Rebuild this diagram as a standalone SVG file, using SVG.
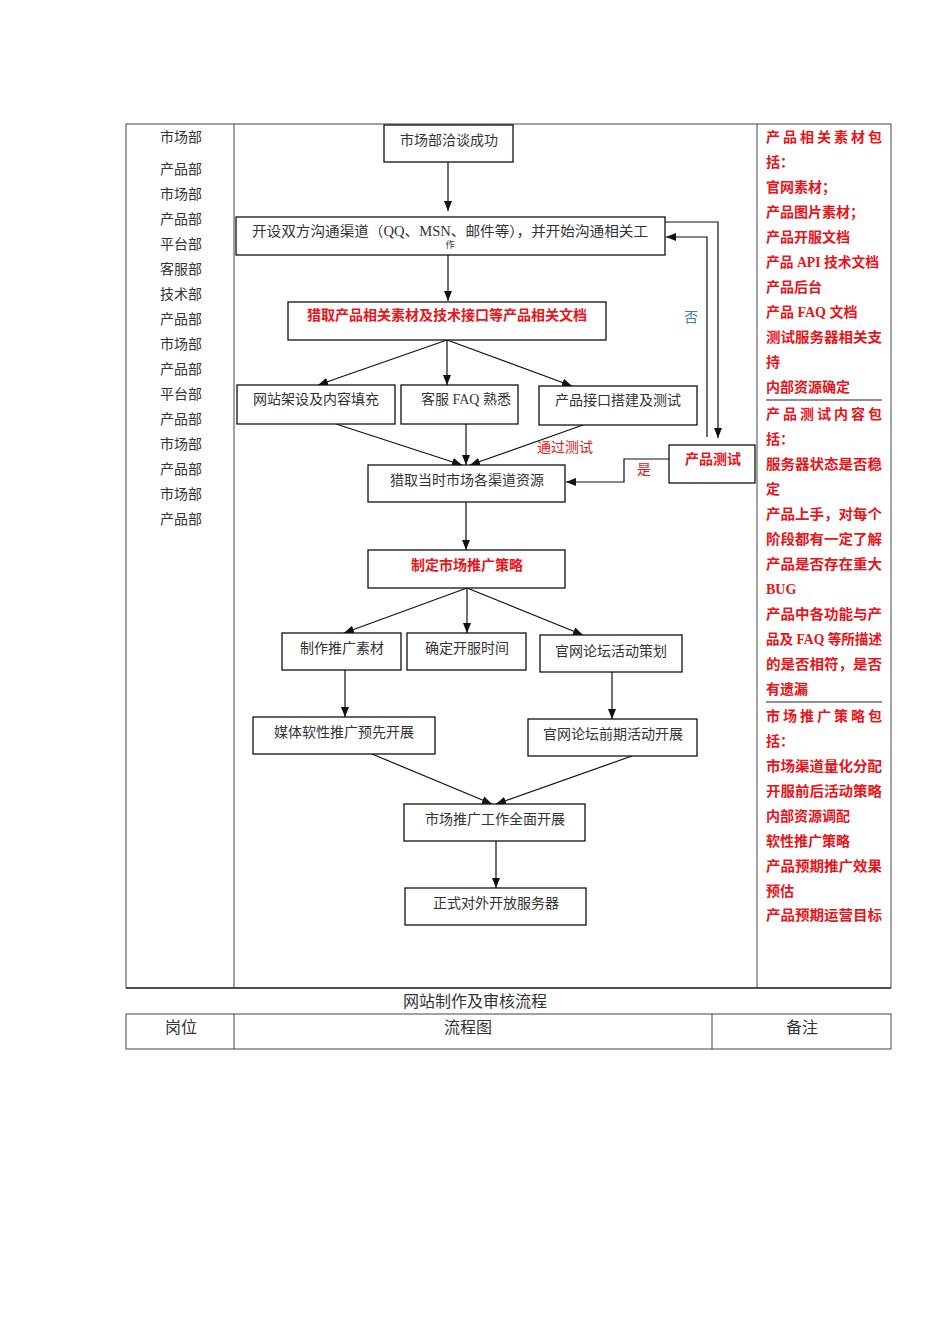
<svg xmlns="http://www.w3.org/2000/svg" width="950" height="1344" viewBox="0 0 950 1344">
<style>
.bg{fill:#fff}
.tbl{fill:none;stroke:#444;stroke-width:1}
.box{fill:#fff;stroke:#111;stroke-width:1.3}
.ln{fill:none;stroke:#111;stroke-width:1.2}
.t{font-family:"Liberation Serif","Noto Sans CJK SC",serif;font-size:14px;fill:#333}
.c{text-anchor:middle}
.r{fill:#e8141a;font-weight:bold}
.rt{font-family:"Liberation Serif","Noto Sans CJK SC",serif;font-size:14px;fill:#e8141a;font-weight:bold}
.h{font-family:"Liberation Serif","Noto Sans CJK SC",serif;font-size:16px;fill:#333}
</style>
<defs>
<marker id="ah" viewBox="0 0 10 10" refX="10" refY="5" markerWidth="10" markerHeight="10" markerUnits="userSpaceOnUse" orient="auto"><path d="M0,1 L10,5 L0,9 z" fill="#111"/></marker>
</defs>
<rect class="bg" x="0" y="0" width="950" height="1344"/>
<g id="table">
<rect class="tbl" x="126" y="124" width="765" height="864"/>
<line class="tbl" x1="234" y1="124" x2="234" y2="988"/>
<line class="tbl" x1="757" y1="124" x2="757" y2="988"/>
<line x1="126" y1="988" x2="891" y2="988" stroke="#333" stroke-width="1.6"/>
<text class="h c" x="475" y="1007">网站制作及审核流程</text>
<rect class="tbl" x="126" y="1014" width="765" height="35"/>
<line class="tbl" x1="234" y1="1014" x2="234" y2="1049"/>
<line class="tbl" x1="712" y1="1014" x2="712" y2="1049"/>
<text class="h c" x="181" y="1033">岗位</text>
<text class="h c" x="468" y="1033">流程图</text>
<text class="h c" x="802" y="1033">备注</text>
</g>
<g id="roles" class="t">
<text class="t c" x="181" y="142">市场部</text>
<text class="t c" x="181" y="174">产品部</text>
<text class="t c" x="181" y="199">市场部</text>
<text class="t c" x="181" y="224">产品部</text>
<text class="t c" x="181" y="249">平台部</text>
<text class="t c" x="181" y="274">客服部</text>
<text class="t c" x="181" y="299">技术部</text>
<text class="t c" x="181" y="324">产品部</text>
<text class="t c" x="181" y="349">市场部</text>
<text class="t c" x="181" y="374">产品部</text>
<text class="t c" x="181" y="399">平台部</text>
<text class="t c" x="181" y="424">产品部</text>
<text class="t c" x="181" y="449">市场部</text>
<text class="t c" x="181" y="474">产品部</text>
<text class="t c" x="181" y="499">市场部</text>
<text class="t c" x="181" y="524">产品部</text>
</g>
<g id="notes">
<text class="rt" x="766" y="142" textLength="116" lengthAdjust="spacing">产品相关素材包</text>
<text class="rt" x="766" y="167">括：</text>
<text class="rt" x="766" y="192">官网素材；</text>
<text class="rt" x="766" y="217">产品图片素材；</text>
<text class="rt" x="766" y="242">产品开服文档</text>
<text class="rt" x="766" y="267" textLength="113" lengthAdjust="spacingAndGlyphs">产品 API 技术文档</text>
<text class="rt" x="766" y="292">产品后台</text>
<text class="rt" x="766" y="317">产品 FAQ 文档</text>
<text class="rt" x="766" y="342" textLength="116" lengthAdjust="spacingAndGlyphs">测试服务器相关支</text>
<text class="rt" x="766" y="367">持</text>
<text class="rt" x="766" y="392">内部资源确定</text>
<line x1="766" y1="400" x2="882" y2="400" stroke="#222" stroke-width="1.2"/>
<text class="rt" x="766" y="419" textLength="116" lengthAdjust="spacing">产品测试内容包</text>
<text class="rt" x="766" y="444">括：</text>
<text class="rt" x="766" y="469" textLength="116" lengthAdjust="spacingAndGlyphs">服务器状态是否稳</text>
<text class="rt" x="766" y="494">定</text>
<text class="rt" x="766" y="519" textLength="116" lengthAdjust="spacingAndGlyphs">产品上手，对每个</text>
<text class="rt" x="766" y="544" textLength="116" lengthAdjust="spacingAndGlyphs">阶段都有一定了解</text>
<text class="rt" x="766" y="569" textLength="116" lengthAdjust="spacingAndGlyphs">产品是否存在重大</text>
<text class="rt" x="766" y="594">BUG</text>
<text class="rt" x="766" y="619" textLength="116" lengthAdjust="spacingAndGlyphs">产品中各功能与产</text>
<text class="rt" x="766" y="644" textLength="116" lengthAdjust="spacingAndGlyphs">品及 FAQ 等所描述</text>
<text class="rt" x="766" y="669" textLength="116" lengthAdjust="spacingAndGlyphs">的是否相符，是否</text>
<text class="rt" x="766" y="694">有遗漏</text>
<line x1="766" y1="702" x2="882" y2="702" stroke="#222" stroke-width="1.2"/>
<text class="rt" x="766" y="721" textLength="116" lengthAdjust="spacing">市场推广策略包</text>
<text class="rt" x="766" y="746">括：</text>
<text class="rt" x="766" y="771" textLength="116" lengthAdjust="spacingAndGlyphs">市场渠道量化分配</text>
<text class="rt" x="766" y="796" textLength="116" lengthAdjust="spacingAndGlyphs">开服前后活动策略</text>
<text class="rt" x="766" y="821">内部资源调配</text>
<text class="rt" x="766" y="846">软性推广策略</text>
<text class="rt" x="766" y="871" textLength="116" lengthAdjust="spacingAndGlyphs">产品预期推广效果</text>
<text class="rt" x="766" y="896">预估</text>
<text class="rt" x="766" y="920" textLength="116" lengthAdjust="spacingAndGlyphs">产品预期运营目标</text>
</g>
<g id="connectors">
<line class="ln" x1="448" y1="162" x2="448" y2="211" marker-end="url(#ah)"/>
<line class="ln" x1="448" y1="255" x2="448" y2="301" marker-end="url(#ah)"/>
<line class="ln" x1="447" y1="340" x2="318" y2="385" marker-end="url(#ah)"/>
<line class="ln" x1="447" y1="340" x2="447" y2="385" marker-end="url(#ah)"/>
<line class="ln" x1="447" y1="340" x2="572" y2="386" marker-end="url(#ah)"/>
<line class="ln" x1="336" y1="424" x2="462" y2="465" marker-end="url(#ah)"/>
<line class="ln" x1="466" y1="424" x2="466" y2="465" marker-end="url(#ah)"/>
<line class="ln" x1="583" y1="425" x2="470" y2="465" marker-end="url(#ah)"/>
<polyline class="ln" points="669,459 624,459 624,482 566,482" marker-end="url(#ah)"/>
<polyline class="ln" points="665,222 718,222 718,438" marker-end="url(#ah)"/>
<polyline class="ln" points="707,437 707,237 666,237" marker-end="url(#ah)"/>
<line class="ln" x1="466" y1="502" x2="466" y2="550" marker-end="url(#ah)"/>
<line class="ln" x1="467" y1="588" x2="344" y2="633" marker-end="url(#ah)"/>
<line class="ln" x1="467" y1="588" x2="467" y2="633" marker-end="url(#ah)"/>
<line class="ln" x1="467" y1="588" x2="583" y2="635" marker-end="url(#ah)"/>
<line class="ln" x1="345" y1="670" x2="345" y2="717" marker-end="url(#ah)"/>
<line class="ln" x1="612" y1="672" x2="612" y2="719" marker-end="url(#ah)"/>
<line class="ln" x1="372" y1="754" x2="492" y2="804" marker-end="url(#ah)"/>
<line class="ln" x1="632" y1="756" x2="496" y2="804" marker-end="url(#ah)"/>
<line class="ln" x1="496" y1="841" x2="496" y2="888" marker-end="url(#ah)"/>
<text class="t" x="537" y="452" style="fill:#e8141a">通过测试</text>
<text class="t" x="637" y="474" style="fill:#e8141a">是</text>
<text class="t" x="684" y="322" style="fill:#3a7fb5">否</text>
</g>
<g id="n1"><rect class="box" x="384" y="125" width="129" height="37"/><text class="t c" x="449" y="145">市场部洽谈成功</text></g>
<g id="n2"><rect class="box" x="236" y="217" width="429" height="38"/><text class="t" x="252" y="236" textLength="396" lengthAdjust="spacingAndGlyphs">开设双方沟通渠道（QQ、MSN、邮件等），并开始沟通相关工</text><text class="t c" x="450" y="248" style="font-size:9px">作</text></g>
<g id="n3"><rect class="box" x="288" y="302" width="318" height="38"/><text class="t c r" x="447" y="320">猎取产品相关素材及技术接口等产品相关文档</text></g>
<g id="n4"><rect class="box" x="237" y="385" width="158" height="39"/><text class="t c" x="316" y="404">网站架设及内容填充</text></g>
<g id="n5"><rect class="box" x="401" y="385" width="117" height="39"/><text class="t c" x="466" y="404">客服 FAQ 熟悉</text></g>
<g id="n6"><rect class="box" x="539" y="386" width="158" height="39"/><text class="t c" x="618" y="405">产品接口搭建及测试</text></g>
<g id="n7"><rect class="box" x="368" y="465" width="197" height="37"/><text class="t c" x="467" y="485">猎取当时市场各渠道资源</text></g>
<g id="n8"><rect class="box" x="669" y="445" width="86" height="38"/><text class="t c r" x="713" y="464">产品测试</text></g>
<g id="n9"><rect class="box" x="368" y="550" width="197" height="38"/><text class="t c r" x="467" y="570">制定市场推广策略</text></g>
<g id="n10"><rect class="box" x="282" y="633" width="119" height="37"/><text class="t c" x="342" y="653">制作推广素材</text></g>
<g id="n11"><rect class="box" x="407" y="633" width="119" height="37"/><text class="t c" x="467" y="653">确定开服时间</text></g>
<g id="n12"><rect class="box" x="540" y="635" width="142" height="37"/><text class="t c" x="611" y="656">官网论坛活动策划</text></g>
<g id="n13"><rect class="box" x="253" y="717" width="182" height="37"/><text class="t c" x="344" y="737">媒体软性推广预先开展</text></g>
<g id="n14"><rect class="box" x="528" y="719" width="169" height="37"/><text class="t c" x="613" y="739">官网论坛前期活动开展</text></g>
<g id="n15"><rect class="box" x="404" y="804" width="181" height="37"/><text class="t c" x="495" y="824">市场推广工作全面开展</text></g>
<g id="n16"><rect class="box" x="405" y="888" width="181" height="37"/><text class="t c" x="496" y="908">正式对外开放服务器</text></g>
</svg>
